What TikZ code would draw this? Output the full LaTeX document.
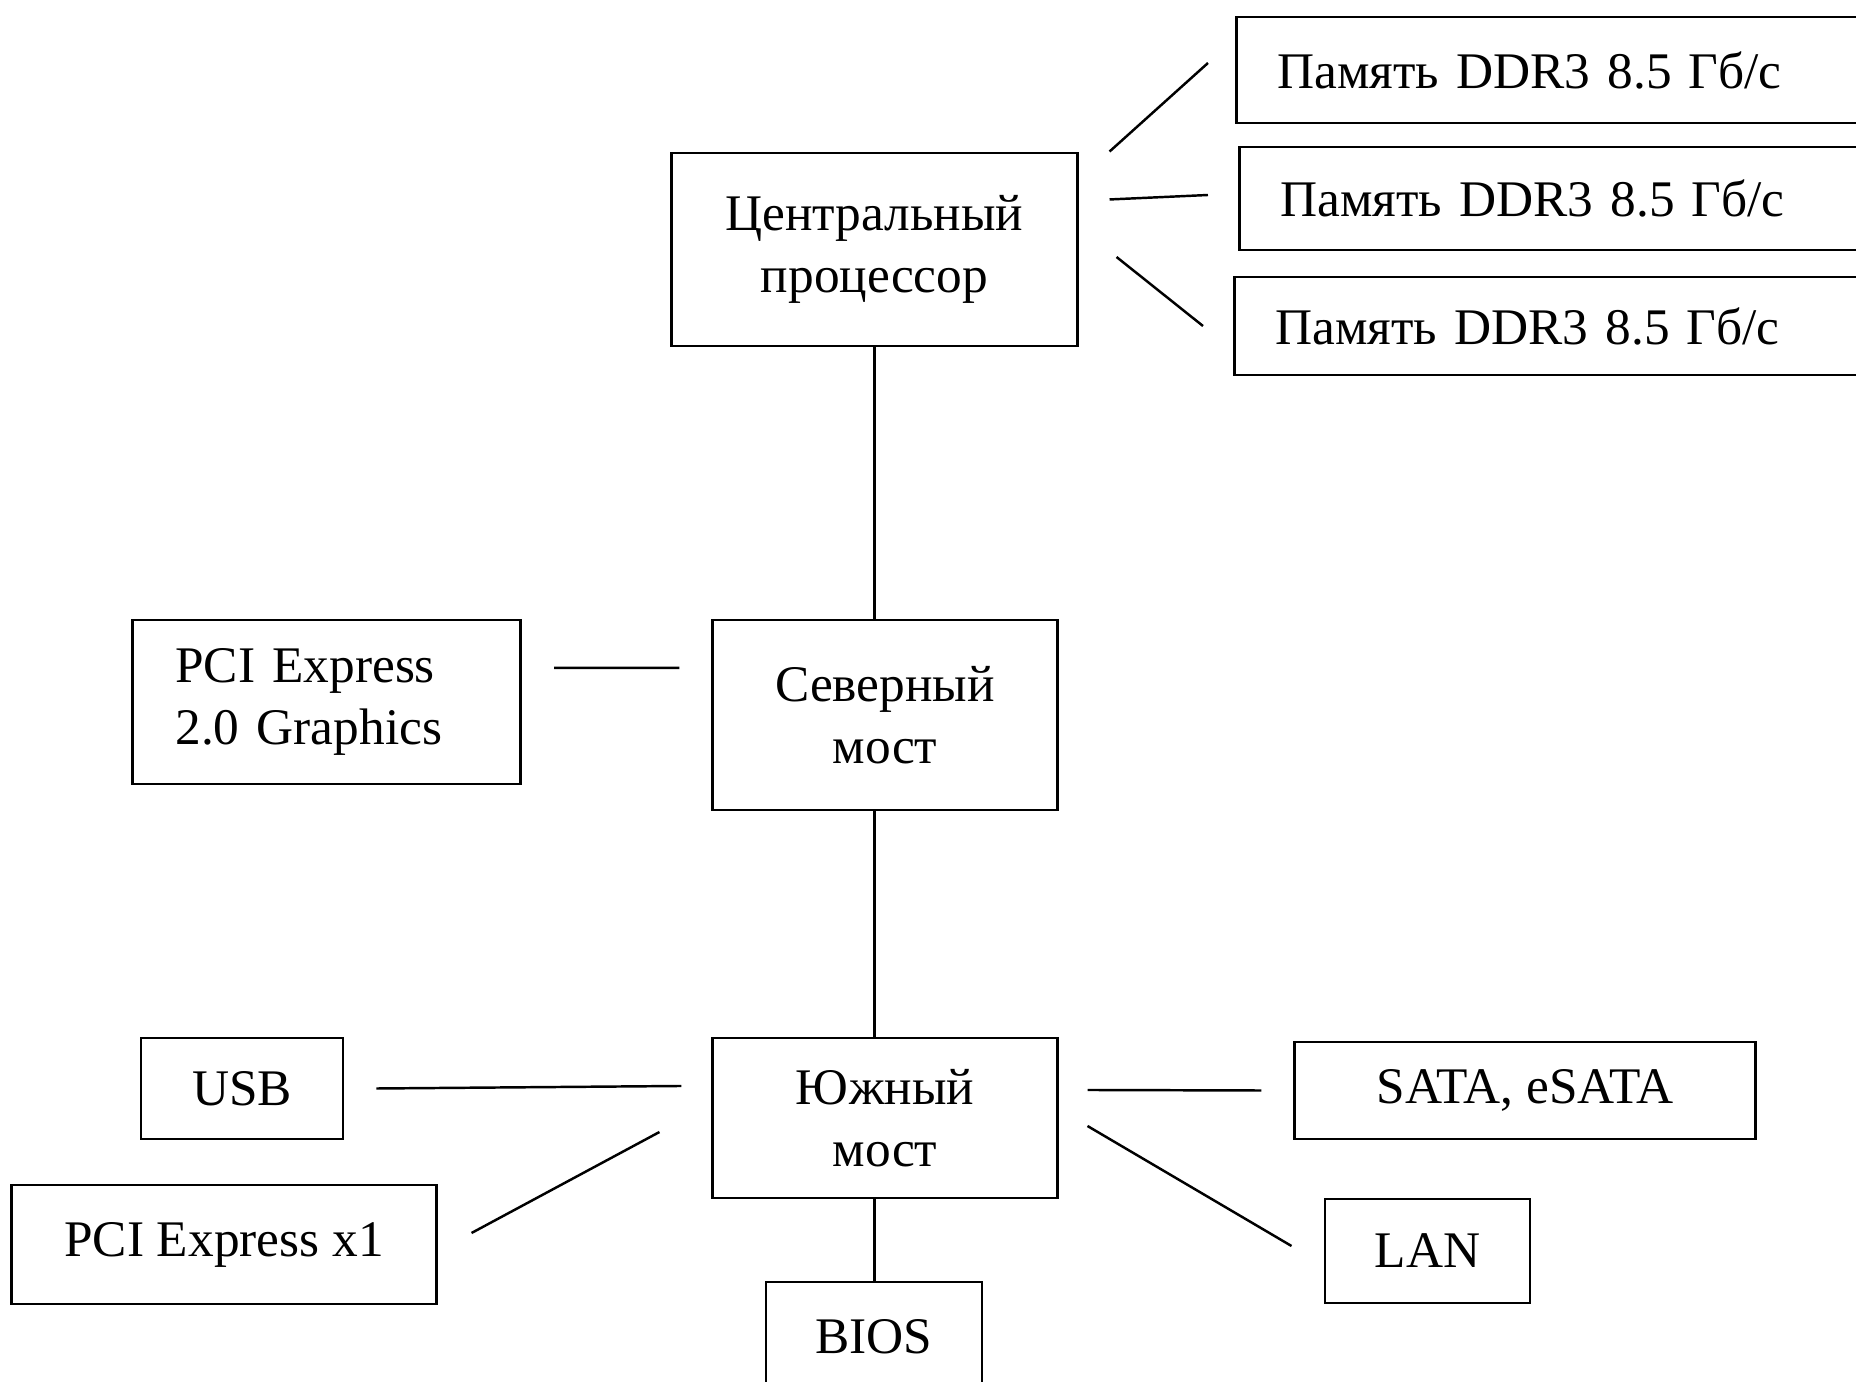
\documentclass[tikz,border=0pt]{standalone}
\usepackage{fontspec}
\setmainfont{Liberation Serif}
\usepackage{tikz}

\begin{document}
\begin{tikzpicture}[
          x=0.01cm, y=-0.01cm,
          block/.style={draw, line width=0.8pt, inner sep=0pt, align=center,
                        font={\fontsize{14.6}{17.6}\selectfont}},
          memblock/.style={block, anchor=west, align=left, inner xsep=0.41cm, text width=5.83cm},
          link/.style={line width=0.7pt}
        ]
        \useasboundingbox (0,0) rectangle (1856,1382);
        \fill[white] (0,0) rectangle (1856,1382);

        % processor and memory
        \node[block, minimum width=4.05cm, minimum height=1.93cm] (cpu) at (874.5,249.5)
          {Центральный\\процессор};
        \node[memblock, minimum height=1.06cm] (mem1) at (1235,70) {Память DDR3 8.5 Гб/с};
        \node[memblock, minimum height=1.03cm] (mem2) at (1238,198.5) {Память DDR3 8.5 Гб/с};
        \node[memblock, minimum height=0.98cm] (mem3) at (1233,326) {Память DDR3 8.5 Гб/с};

        % bridges
        \node[block, minimum width=3.44cm, minimum height=1.90cm] (north) at (885,715)
          {Северный\\мост};
        \node[block, anchor=west, align=left, inner xsep=0.43cm, text width=3.02cm,
              minimum height=1.64cm] (pcig) at (131,702) {PCI Express\\2.0 Graphics};
        \node[block, minimum width=3.44cm, minimum height=1.60cm] (south) at (885,1118)
          {Южный\\мост};

        % devices
        \node[block, minimum width=2.02cm, minimum height=1.01cm] (usb) at (242,1088.5) {USB};
        \node[block, minimum width=4.24cm, minimum height=1.19cm] (pcix) at (224,1244.5) {PCI Express x1};
        \node[block, minimum width=4.60cm, minimum height=0.97cm] (sata) at (1525,1090.5) {SATA, eSATA};
        \node[block, minimum width=2.05cm, minimum height=1.04cm] (lan) at (1427.5,1251) {LAN};
        \node[block, minimum width=2.16cm, minimum height=1.10cm] (bios) at (874,1337) {BIOS};

        % connections
        \draw[link] ([xshift=0.31cm]cpu.north east) -- ([xshift=-0.27cm,yshift=0.07cm]mem1.west);
        \draw[link] ([xshift=0.31cm,yshift=0.5cm]cpu.east) -- ([xshift=-0.3cm,yshift=0.035cm]mem2.west);
        \draw[link] ([xshift=0.38cm,yshift=-0.075cm]cpu.east) -- ([xshift=-0.3cm]mem3.west);
        \draw[link] (cpu.south) -- (cpu.south |- north.north);
        \draw[link] ([xshift=0.32cm,yshift=0.34cm]pcig.east) -- ([xshift=-0.32cm,yshift=0.47cm]north.west);
        \draw[link] (north.south -| cpu.south) -- (south.north -| cpu.south);
        \draw[link] ([xshift=0.32cm]usb.east) -- ([xshift=-0.3cm,yshift=0.32cm]south.west);
        \draw[link] ([xshift=0.34cm,yshift=0.115cm]pcix.east) -- ([xshift=-0.52cm,yshift=-0.14cm]south.west);
        \draw[link] (south.south -| cpu.south) -- (bios.north -| cpu.south);
        \draw[link] ([xshift=0.29cm,yshift=0.28cm]south.east) -- ([xshift=-0.32cm]sata.west);
        \draw[link] ([xshift=0.29cm,yshift=-0.08cm]south.east) -- ([xshift=-0.32cm,yshift=0.05cm]lan.west);
\end{tikzpicture}
\end{document}
